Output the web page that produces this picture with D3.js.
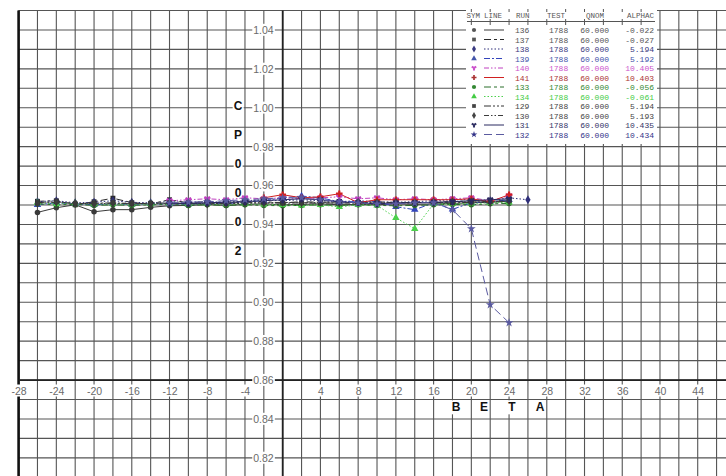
<!DOCTYPE html>
<html>
<head>
<meta charset="utf-8">
<script src="https://cdn.jsdelivr.net/npm/d3@7"></script>
<style>
  body { margin: 0; background: #fff; }
  svg { display: block; }
</style>
</head>
<body>
<div id="chart"></div>
<script>
const width = 726;
const height = 476;

// ---- data ----
const runs    = ["136", "137", "138", "139", "140", "141", "133", "134", "129", "130", "131", "132"];
const tests   = ["1788", "1788", "1788", "1788", "1788", "1788", "1788", "1788", "1788", "1788", "1788", "1788"];
const qnom    = ["60.000", "60.000", "60.000", "60.000", "60.000", "60.000", "60.000", "60.000", "60.000", "60.000", "60.000", "60.000"];
const alphac  = ["-0.022", "-0.027", "5.194", "5.192", "10.405", "10.403", "-0.056", "-0.061", "5.194", "5.193", "10.435", "10.434"];

const betaLong  = [-26,-24,-22,-20,-18,-16,-14,-12,-10,-8,-6,-4,-2,0,2,4,6,8,10,12,14,16,18,20,22,24];
const betaLong26 = [-26,-24,-22,-20,-18,-16,-14,-12,-10,-8,-6,-4,-2,0,2,4,6,8,10,12,14,16,18,20,22,24,26];
const betaMid   = [-12,-10,-8,-6,-4,-2,0,2,4,6,8,10,12,14,16,18,20,22,24];
const betaShort = [-2,0,2,4,6,8,10,12,14,16,18,20,22,24];

const cp136 = [0.9462,0.9486,0.9501,0.9465,0.9476,0.9476,0.9488,0.9496,0.9498,0.9503,0.9498,0.9503,0.9506,0.9501,0.9503,0.9506,0.9501,0.9503,0.9501,0.9506,0.9503,0.9506,0.9508,0.9511,0.9514,0.9519];
const cp137 = [0.9519,0.9522,0.9501,0.9517,0.9535,0.9512,0.9506,0.9527,0.9511,0.9517,0.9506,0.9522,0.9517,0.9511,0.9517,0.9514,0.9517,0.9511,0.9517,0.9511,0.9514,0.9511,0.9517,0.9522,0.9517,0.9527];
const cp138 = [0.9517,0.9522,0.9511,0.9514,0.9522,0.9514,0.9511,0.9517,0.9514,0.9517,0.9514,0.9522,0.9527,0.9522,0.9527,0.9522,0.9517,0.9522,0.9517,0.9514,0.9517,0.9522,0.9527,0.9527,0.9522,0.9537,0.9527];
const cp139 = [0.9501,0.9511,0.9506,0.9501,0.9506,0.9503,0.9506,0.9506,0.9503,0.9511,0.9506,0.9517,0.9522,0.9537,0.9546,0.9537,0.9517,0.9517,0.9517,0.9491,0.9476,0.9511,0.9478,0.9511,0.9517,0.9527];
const cp140 = [0.9522,0.9527,0.9532,0.9527,0.9537,0.9532,0.9537,0.9532,0.9537,0.9542,0.9532,0.9537,0.9527,0.9532,0.9527,0.9532,0.9537,0.9522,0.9547];
const cp141 = [0.9537,0.9553,0.9537,0.9542,0.9558,0.9512,0.9527,0.9527,0.9527,0.9527,0.9527,0.9532,0.9517,0.9553];
const cp133 = [0.9506,0.9501,0.9503,0.9498,0.9501,0.9498,0.9501,0.9503,0.9498,0.9501,0.9498,0.9501,0.9498,0.9496,0.9498,0.9501,0.9498,0.9501,0.9498,0.9496,0.9498,0.9501,0.9503,0.9501,0.9506,0.9508];
const cp134 = [0.9512,0.9506,0.9509,0.9504,0.9506,0.9503,0.9506,0.9509,0.9504,0.9506,0.9503,0.9506,0.9503,0.9501,0.9498,0.9501,0.9490,0.9501,0.9498,0.9434,0.9378,0.9506,0.9506,0.9508,0.9511,0.9514];
const cp129 = [0.9512,0.9517,0.9506,0.9509,0.9511,0.9506,0.9509,0.9511,0.9506,0.9509,0.9506,0.9509,0.9511,0.9509,0.9511,0.9509,0.9511,0.9509,0.9511,0.9509,0.9511,0.9514,0.9511,0.9514,0.9517,0.9522];
const cp130 = [0.9509,0.9514,0.9509,0.9506,0.9509,0.9509,0.9506,0.9509,0.9509,0.9506,0.9509,0.9514,0.9511,0.9514,0.9511,0.9514,0.9509,0.9514,0.9511,0.9514,0.9511,0.9514,0.9517,0.9517,0.9514,0.9519];
const cp131 = [0.9506,0.9509,0.9511,0.9514,0.9517,0.9522,0.9527,0.9532,0.9527,0.9517,0.9511,0.9506,0.9511,0.9511,0.9514,0.9517,0.9522,0.9527,0.9532];
const cp132 = [0.9511,0.9514,0.9517,0.9522,0.9527,0.9532,0.9537,0.9537,0.9527,0.9517,0.9511,0.9506,0.9506,0.9511,0.9512,0.9476,0.9378,0.8987,0.8895];

const seriesBeta = [betaLong, betaLong, betaLong26, betaLong, betaMid, betaShort, betaLong, betaLong, betaLong, betaLong, betaMid, betaMid];
const seriesCp   = [cp136, cp137, cp138, cp139, cp140, cp141, cp133, cp134, cp129, cp130, cp131, cp132];

const xTickVals = [-28,-24,-20,-16,-12,-8,-4,4,8,12,16,20,24,28,32,36,40,44];
const yTickVals = [1.04,1.02,1.00,0.98,0.96,0.94,0.92,0.90,0.88,0.86,0.84,0.82];
const yTitle = ["C","P","0","0","0","2"];
const xTitle = ["B","E","T","A"];

// ---- styles ----
const colors = ["#3a3a3a","#2a2a2a","#2e2e7a","#3344bb","#c040c0","#d02020","#2a6e2a","#4cd04c","#333333","#3c3c3c","#2a2a60","#5a5aa0"];
const textColors = ["#555","#555","#3a3a80","#4455aa","#cc55cc","#aa3333","#338833","#44cc44","#444","#444","#333366","#333388"];
const dashes = ["none","7,3,3,3","1.5,2","6,2,2,2","5,2,1.5,2,1.5,2","none","7,3,3,3","1.5,2","7,2,2,2,2,2","5,2,1.5,2,1.5,2","none","8,4"];
const symbols = [d3.symbolCircle, d3.symbolSquare, d3.symbolDiamond, d3.symbolTriangle, d3.symbolWye, d3.symbolCross,
                 d3.symbolCircle, d3.symbolTriangle, d3.symbolSquare, d3.symbolDiamond, d3.symbolWye, d3.symbolStar];

const xScale = d3.scaleLinear().domain([-28, 47]).range([18.6, 726]);
const yScale = d3.scaleLinear().domain([0.81, 1.05]).range([477.3, 10.5]);

const svg = d3.select("#chart").append("svg")
    .attr("width", width)
    .attr("height", height)
    .style("font-family", "'Liberation Sans', Arial, sans-serif");

svg.append("rect").attr("width", width).attr("height", height).attr("fill", "#fff");

// grid
const grid = svg.append("g").attr("stroke", "#555").attr("stroke-width", 1.1);
grid.selectAll("line.v")
    .data(d3.range(-28, 47, 2))
    .join("line")
    .attr("class", "v")
    .attr("x1", d => xScale(d)).attr("x2", d => xScale(d))
    .attr("y1", yScale(1.05)).attr("y2", height);
grid.selectAll("line.h")
    .data(d3.range(81, 106).map(d => d / 100))
    .join("line")
    .attr("class", "h")
    .attr("x1", xScale(-28)).attr("x2", width)
    .attr("y1", d => yScale(d)).attr("y2", d => yScale(d));

// heavier lines: left frame, beta = 0, cp = 0.86
svg.append("line")
    .attr("x1", xScale(-28)).attr("x2", xScale(-28))
    .attr("y1", yScale(1.05)).attr("y2", height)
    .attr("stroke", "#111").attr("stroke-width", 2.6);
svg.append("line")
    .attr("x1", xScale(0)).attr("x2", xScale(0))
    .attr("y1", yScale(1.05)).attr("y2", height)
    .attr("stroke", "#222").attr("stroke-width", 1.8);
svg.append("line")
    .attr("x1", xScale(-28)).attr("x2", width)
    .attr("y1", yScale(0.86)).attr("y2", yScale(0.86))
    .attr("stroke", "#222").attr("stroke-width", 1.8);

// puts a white box behind each text so the grid breaks around it
function whiteBehind(sel, pad) {
    sel.each(function() {
        const b = this.getBBox();
        d3.select(this.parentNode).insert("rect", () => this)
            .attr("x", b.x - pad).attr("y", b.y)
            .attr("width", b.width + 2 * pad).attr("height", b.height)
            .attr("fill", "#fff");
    });
}

// x axis labels
const xAxis = svg.append("g")
    .attr("transform", `translate(0,${yScale(0.86)})`)
    .call(d3.axisBottom(xScale).tickValues(xTickVals).tickSize(0).tickPadding(7).tickFormat(d3.format("d")));
xAxis.select(".domain").remove();
xAxis.selectAll("text")
    .attr("fill", "#6a6a6a")
    .style("font-size", "10.5px")
    .text(d => d3.format("d")(d).replace("−", "-"));
xAxis.selectAll("text").call(whiteBehind, 1);

// y axis labels
const yAxis = svg.append("g")
    .attr("transform", `translate(${xScale(0)},0)`)
    .call(d3.axisLeft(yScale).tickValues(yTickVals).tickSize(0).tickPadding(9).tickFormat(d3.format(".2f")));
yAxis.select(".domain").remove();
yAxis.selectAll("text")
    .attr("fill", "#6a6a6a")
    .style("font-size", "10.5px");
yAxis.selectAll("text").call(whiteBehind, 1);

// axis titles, one letter at a time
const yT = svg.append("g");
yT.selectAll("text")
    .data(yTitle)
    .join("text")
    .attr("x", 238)
    .attr("y", (d, i) => 106 + i * 29)
    .attr("dy", "0.36em")
    .attr("text-anchor", "middle")
    .attr("font-weight", "bold")
    .style("font-size", "12px")
    .attr("fill", "#111")
    .text(d => d);
yT.selectAll("text").call(whiteBehind, 1);

const xT = svg.append("g");
xT.selectAll("text")
    .data(xTitle)
    .join("text")
    .attr("x", (d, i) => 456 + i * 28)
    .attr("y", 407)
    .attr("dy", "0.36em")
    .attr("text-anchor", "middle")
    .attr("font-weight", "bold")
    .style("font-size", "12px")
    .attr("fill", "#111")
    .text(d => d);
xT.selectAll("text").call(whiteBehind, 1);

// series
const line = d3.line().x(d => xScale(d[0])).y(d => yScale(d[1]));
const series = runs.map((r, i) => ({
    run: r, i: i,
    pts: seriesBeta[i].map((b, j) => [b, seriesCp[i][j]])
}));

const plot = svg.append("g");
plot.selectAll("path.series")
    .data(series)
    .join("path")
    .attr("class", "series")
    .attr("fill", "none")
    .attr("stroke", d => colors[d.i])
    .attr("stroke-width", 1)
    .attr("stroke-dasharray", d => dashes[d.i])
    .attr("d", d => line(d.pts));

plot.selectAll("g.marks")
    .data(series)
    .join("g")
    .attr("class", "marks")
    .attr("fill", d => colors[d.i])
    .selectAll("path")
    .data(d => d.pts.map(p => ({ p: p, i: d.i })))
    .join("path")
    .attr("transform", d => `translate(${xScale(d.p[0])},${yScale(d.p[1])})`)
    .attr("d", d => d3.symbol(symbols[d.i], 24)());

// legend
const lg = svg.append("g").style("font-family", "'Liberation Mono', 'DejaVu Sans Mono', monospace").style("font-size", "8px");
lg.append("rect").attr("x", 466).attr("y", 9).attr("width", 191).attr("height", 135).attr("fill", "#fff");

const stubX = d3.range(20, 40, 2).map(d => xScale(d));
lg.selectAll("line.stub")
    .data(stubX.flatMap(x => [[x, 9, 12], [x, 19, 25]]))
    .join("line")
    .attr("x1", d => d[0]).attr("x2", d => d[0])
    .attr("y1", d => d[1]).attr("y2", d => d[2])
    .attr("stroke", "#555").attr("stroke-width", 1);
lg.append("line")
    .attr("x1", 467).attr("x2", 655).attr("y1", 21.5).attr("y2", 21.5)
    .attr("stroke", "#555").attr("stroke-width", 1);

const headers = [["SYM", 480, "end"], ["LINE", 484, "start"], ["RUN", 516, "start"], ["TEST", 547, "start"], ["QNOM", 604, "end"], ["ALPHAC", 654, "end"]];
lg.selectAll("text.head")
    .data(headers)
    .join("text")
    .attr("class", "head")
    .attr("x", d => d[1]).attr("y", 18)
    .attr("text-anchor", d => d[2])
    .attr("fill", "#555")
    .style("font-size", "7.5px")
    .text(d => d[0]);

const rows = lg.selectAll("g.row")
    .data(series)
    .join("g")
    .attr("class", "row")
    .attr("transform", d => `translate(0,${30 + d.i * 9.5})`);
rows.append("path")
    .attr("transform", "translate(474,0)")
    .attr("fill", d => textColors[d.i])
    .attr("d", d => d3.symbol(symbols[d.i], 14)());
rows.append("line")
    .attr("x1", 484).attr("x2", 504).attr("y1", 0).attr("y2", 0)
    .attr("stroke", d => colors[d.i])
    .attr("stroke-width", 1)
    .attr("stroke-dasharray", d => dashes[d.i]);
const cols = [[d => runs[d.i], 515, "start"], [d => tests[d.i], 549, "start"], [d => qnom[d.i], 609, "end"], [d => alphac[d.i], 654, "end"]];
cols.forEach(c => {
    rows.append("text")
        .attr("x", c[1]).attr("y", 3)
        .attr("text-anchor", c[2])
        .attr("fill", d => textColors[d.i])
        .text(c[0]);
});
</script>
</body>
</html>
